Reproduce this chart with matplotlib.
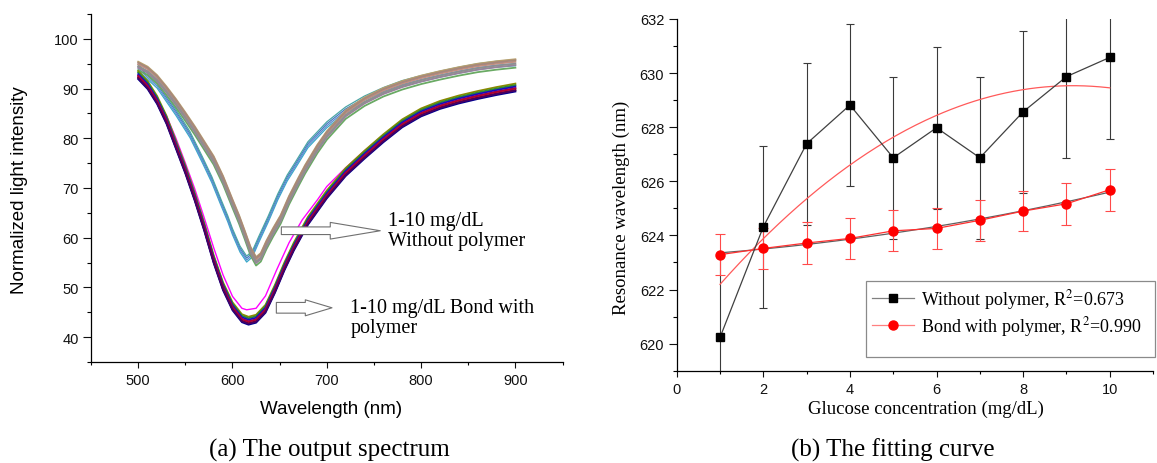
import numpy as np
import matplotlib
matplotlib.use("Agg")
import matplotlib.pyplot as plt
from matplotlib.lines import Line2D
from matplotlib.patches import Rectangle
from matplotlib.ticker import MultipleLocator

# ---------------------------------------------------------------------------
# (a) output spectra (nm, normalized intensity)
WL_NOPOLY = [500, 510, 520, 530, 540, 550, 560, 570, 580, 590, 600, 607, 613, 619, 625,
             630, 636, 643, 651, 660, 670, 677, 690, 700, 720, 740, 760, 780, 800, 820,
             840, 860, 880, 900]
I_NOPOLY = [94.5, 93.5, 91.8, 89.5, 87.0, 84.3, 81.5, 78.5, 75.5, 71.5, 66.8, 63.6, 60.5,
            57.3, 55.2, 56.0, 58.5, 61.0, 63.6, 67.5, 71.2, 73.7, 77.8, 80.5, 84.7, 87.3,
            89.2, 90.6, 91.7, 92.6, 93.4, 94.1, 94.6, 95.0]
# the bluish traces of the same group sit ~10 nm to the left around the dip
WL_NOPOLY_B = [500, 520, 540, 555, 568, 578, 588, 595, 600, 608, 615, 621, 628, 638, 648,
               658, 667, 680, 700, 720, 740, 760, 780, 800, 820, 840, 860, 880, 900]
I_NOPOLY_B = [94.0, 90.5, 85.0, 80.5, 75.5, 71.5, 66.8, 63.6, 61.0, 57.5, 55.5, 56.5, 59.5,
              63.6, 68.0, 71.8, 74.5, 78.5, 82.5, 85.5, 87.7, 89.4, 90.8, 91.8, 92.7, 93.5,
              94.2, 94.7, 95.0]
WL_POLY = [500, 510, 520, 530, 540, 550, 560, 570, 580, 590, 600, 610, 617, 625, 635, 645,
           655, 665, 680, 700, 720, 740, 760, 780, 800, 820, 840, 860, 880, 900]
I_POLY = [92.5, 90.5, 87.5, 83.5, 78.5, 73.5, 68.0, 62.0, 55.5, 50.0, 46.0, 43.6, 43.1,
          43.5, 45.5, 49.5, 54.0, 58.0, 63.2, 68.5, 73.0, 76.5, 79.8, 82.8, 85.0, 86.5,
          87.6, 88.5, 89.3, 90.0]
# magenta trace: shallower dip
WL_POLY_M = [500, 520, 530, 540, 550, 560, 570, 580, 590, 600, 610, 615, 625, 635, 647,
             660, 674, 690, 700, 718, 740, 760, 780, 800, 820, 840, 860, 880, 900]
I_POLY_M = [92.5, 88.0, 84.5, 80.0, 75.0, 69.8, 64.0, 58.0, 52.5, 48.2, 45.8, 45.5, 45.8,
            48.3, 53.6, 59.0, 63.6, 67.6, 70.3, 73.7, 77.5, 80.7, 83.6, 85.7, 87.2, 88.2,
            89.1, 89.9, 90.6]
# per-trace vertical spread inside each bundle
NOPOLY_OFFSETS = [-0.8, 0.9, -0.3, 0.4, 0.0, 0.7]
NOPOLY_B_OFFSETS = [0.4, -0.4, 0.0, 0.8]
POLY_OFFSETS = [1.0, 0.7, 0.4, 0.1, -0.3, -0.6, 0.0, -0.4]

# (b) fitting curve
GLUCOSE = [1, 2, 3, 4, 5, 6, 7, 8, 9, 10]
RES_NOPOLY = [620.23, 624.32, 627.39, 628.82, 626.87, 627.98, 626.87, 628.57, 629.87, 630.58]
ERR_NOPOLY = [3.0, 3.0, 3.0, 3.0, 3.0, 3.0, 3.0, 3.0, 3.0, 3.0]
RES_POLY = [623.29, 623.52, 623.72, 623.89, 624.17, 624.26, 624.56, 624.9, 625.17, 625.69]
ERR_POLY = [0.77, 0.76, 0.76, 0.76, 0.76, 0.75, 0.76, 0.75, 0.77, 0.77]
LABEL_NOPOLY = "Without polymer, R$^2$=0.673"
LABEL_POLY = "Bond with polymer, R$^2$=0.990"

# ---------------------------------------------------------------------------
SANS = "Liberation Sans"
SERIF = "Liberation Serif"
plt.rcParams["font.family"] = SANS
plt.rcParams["mathtext.fontset"] = "stix"

C_NOPOLY = ["#6aaa64", "#b9a16d", "#9a819c", "#c48f80", "#8f8f8f", "#a7887b"]
C_NOPOLY_B = ["#4a78c2", "#39a9c9", "#5b8fd0", "#4aa5a5"]
C_POLY = ["#8a8a00", "#2e8b2e", "#1010c0", "#6b0090", "#8b0000", "#000090", "#b00030", "#4a0060"]

fig = plt.figure(figsize=(11.57, 4.64), dpi=100)


def style_axes(ax, xmaj, xmin, ymaj, ymin):
    for s in ("top", "right"):
        ax.spines[s].set_visible(False)
    for s in ("left", "bottom"):
        ax.spines[s].set_linewidth(0.9)
    ax.xaxis.set_major_locator(MultipleLocator(xmaj))
    ax.xaxis.set_minor_locator(MultipleLocator(xmin))
    ax.yaxis.set_major_locator(MultipleLocator(ymaj))
    ax.yaxis.set_minor_locator(MultipleLocator(ymin))
    ax.tick_params(which="major", direction="out", length=4.5, width=0.8, labelsize=10.5,
                   colors="#111111")
    ax.tick_params(which="minor", direction="out", length=2.5, width=0.8)
    ax.tick_params(axis="y", which="major", length=5.5)
    ax.tick_params(axis="y", which="minor", length=3)


# ---- (a) ------------------------------------------------------------------
ax1 = fig.add_axes([0.0787, 0.2177, 0.4075, 0.75])
for off, c in zip(NOPOLY_B_OFFSETS, C_NOPOLY_B):
    ax1.plot(WL_NOPOLY_B, np.array(I_NOPOLY_B) + off, color=c, lw=0.9)
for off, c in zip(NOPOLY_OFFSETS, C_NOPOLY):
    ax1.plot(WL_NOPOLY, np.array(I_NOPOLY) + off, color=c, lw=1.3)
ax1.plot(WL_POLY_M, I_POLY_M, color="#ff00ff", lw=1.0)
for off, c in zip(POLY_OFFSETS, C_POLY):
    ax1.plot(WL_POLY, np.array(I_POLY) + off, color=c, lw=1.3)
ax1.set_xlim(450, 950)
ax1.set_ylim(35, 105)
style_axes(ax1, 100, 50, 10, 5)

arrow_kw = dict(fc="white", ec="#707070", lw=0.8, shrinkA=0, shrinkB=0, mutation_scale=10)
ax1.annotate("", xy=(756.7, 61.4), xytext=(651.8, 61.4),
             arrowprops=dict(arrowstyle="simple,head_length=3.6,head_width=1.2,tail_width=0.55",
                             **arrow_kw))
ax1.annotate("", xy=(705.5, 45.9), xytext=(646.5, 45.9),
             arrowprops=dict(arrowstyle="simple,head_length=1.92,head_width=1.15,tail_width=0.77",
                             **arrow_kw))
ax1.text(765, 61.4, "1-10 mg/dL\nWithout polymer", family=SERIF, fontsize=14.5,
         ha="left", va="center", linespacing=1.1)
ax1.text(725, 44.0, "1-10 mg/dL Bond with\npolymer", family=SERIF, fontsize=14.5,
         ha="left", va="center", linespacing=1.1)

fig.text(0.2861, 0.1164, "Wavelength (nm)", fontsize=13.5, ha="center", va="center")
fig.text(0.0168, 0.5905, "Normalized light intensity", fontsize=13.5, rotation=90,
         ha="center", va="center")

# ---- (b) ------------------------------------------------------------------
ax2 = fig.add_axes([0.5849, 0.1989, 0.4117, 0.758])
xs = np.linspace(GLUCOSE[0], GLUCOSE[-1], 200)
fit_nopoly = np.polyval(np.polyfit(GLUCOSE, RES_NOPOLY, 2), xs)
fit_poly = np.polyval(np.polyfit(GLUCOSE, RES_POLY, 2), xs)

ax2.errorbar(GLUCOSE, RES_NOPOLY, yerr=ERR_NOPOLY, fmt="none", ecolor="#3a3a3a",
             elinewidth=0.8, capsize=3.2, capthick=0.8, zorder=2)
ax2.errorbar(GLUCOSE, RES_POLY, yerr=ERR_POLY, fmt="none", ecolor="#ff4a4a",
             elinewidth=0.8, capsize=3.4, capthick=0.8, zorder=2)
ax2.plot(xs, fit_poly, color="#606060", lw=0.9, zorder=3)
ax2.plot(GLUCOSE, RES_POLY, color="#ff3030", lw=0.9, marker="o", ms=6.5,
         mfc="red", mec="red", zorder=4)
ax2.plot(xs, fit_nopoly, color="#ff5a5a", lw=0.9, zorder=3)
ax2.plot(GLUCOSE, RES_NOPOLY, color="#404040", lw=0.9, marker="s", ms=6,
         mfc="black", mec="black", zorder=5)
ax2.set_xlim(0, 11)
ax2.set_ylim(619, 632)
style_axes(ax2, 2, 1, 2, 1)

fig.add_artist(Rectangle((866 / 1157, 1 - 358 / 464), (1155 - 866) / 1157, 76 / 464,
                         transform=fig.transFigure, fill=False, ec="#8a8a8a", lw=0.9))
handles = [Line2D([], [], color="#808080", lw=0.9, marker="s", ms=6, mfc="black", mec="black"),
           Line2D([], [], color="#ff8080", lw=0.9, marker="o", ms=6.5, mfc="red", mec="red")]
fig.legend(handles, [LABEL_NOPOLY, LABEL_POLY], loc="upper left",
           bbox_to_anchor=(872 / 1157, 1 - 288 / 464), frameon=False,
           prop=dict(family=SERIF, size=13), handlelength=2.3, handletextpad=0.4,
           labelspacing=0.15, borderpad=0, borderaxespad=0)

fig.text(0.8003, 0.1185, "Glucose concentration (mg/dL)", family=SERIF, fontsize=13.5,
         ha="center", va="center")
fig.text(0.5367, 0.5528, "Resonance wavelength (nm)", family=SERIF, fontsize=13.5,
         rotation=90, ha="center", va="center")

# captions
fig.text(329 / 1157, 0.016, "(a) The output spectrum", family=SERIF, fontsize=18,
         ha="center", va="baseline")
fig.text(893 / 1157, 0.016, "(b) The fitting curve", family=SERIF, fontsize=18,
         ha="center", va="baseline")

fig.savefig("out.png", dpi=100)
